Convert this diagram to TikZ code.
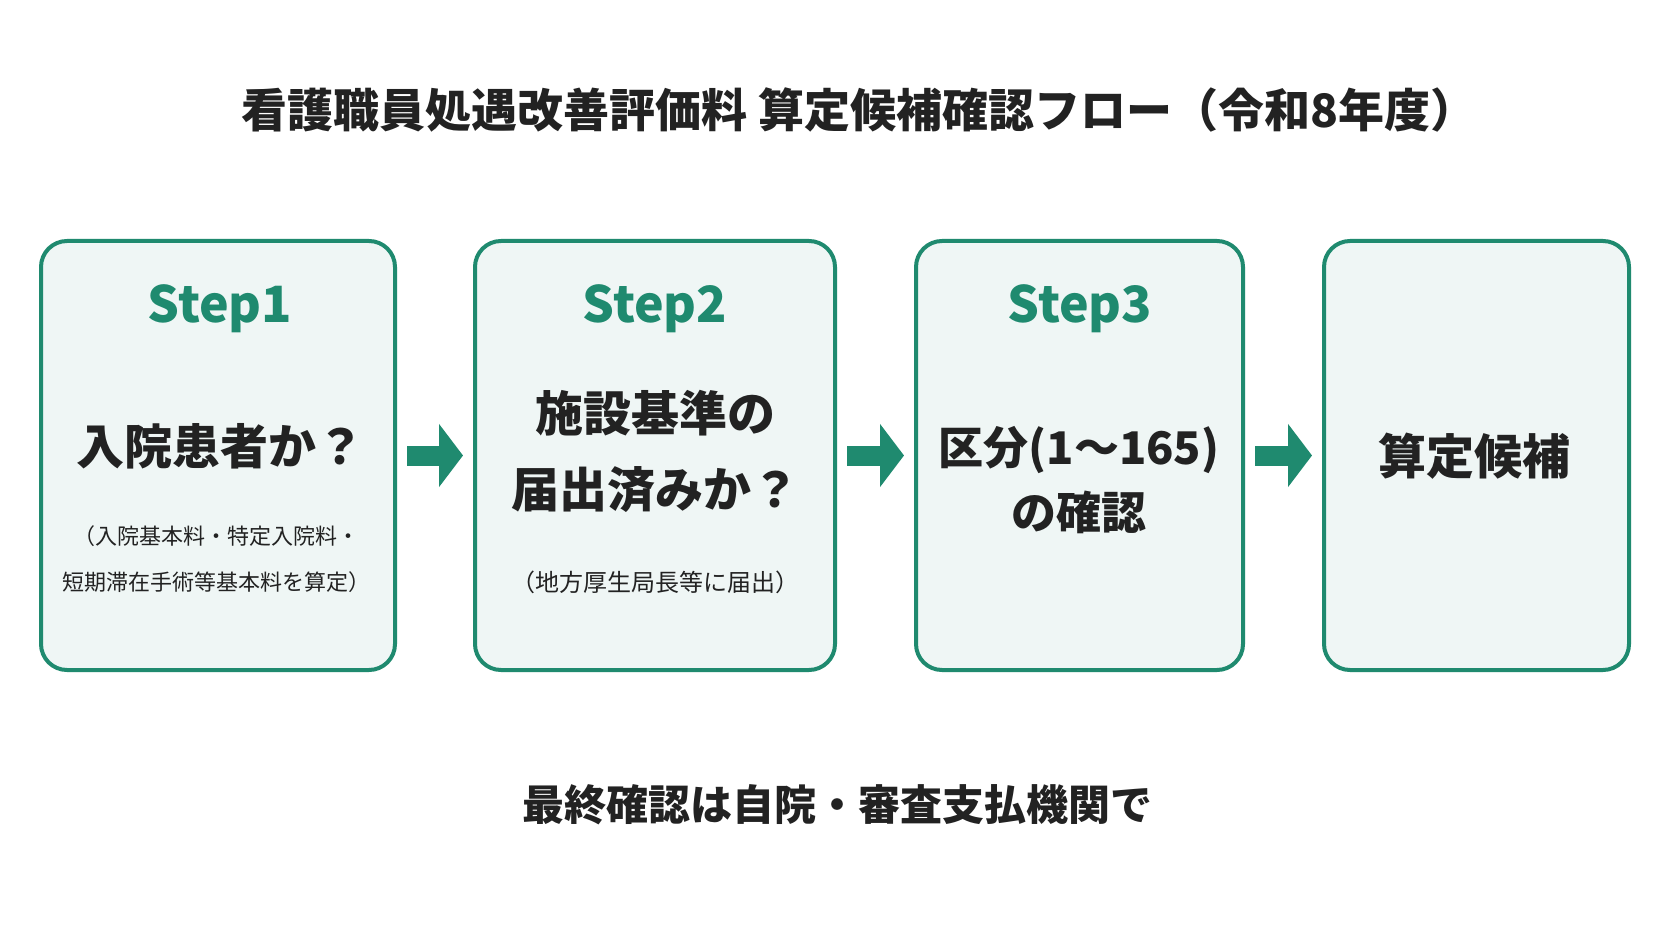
\documentclass[tikz,border=0pt]{standalone}
\usepackage{fontspec}
\setmainfont{Noto Sans CJK JP}
\usetikzlibrary{arrows.meta}
\definecolor{stepgreen}{HTML}{1F8A6F}
\definecolor{stepfill}{HTML}{EFF6F5}
\definecolor{inkdark}{HTML}{222222}
\newcommand{\pxsize}[2]{\fontsize{#1}{#2}\selectfont}

\begin{document}
\begin{tikzpicture}[x=1pt,y=-1pt,
  stepbox/.style={draw=stepgreen, line width=4pt, fill=stepfill, rounded corners=26pt, minimum height=429pt, inner sep=0pt},
  steplabel/.style={text=stepgreen, font=\bfseries\pxsize{50}{60}},
  question/.style={text=inkdark, font=\bfseries\pxsize{48}{#1}, align=center},
  question/.default=60,
  note/.style={text=inkdark, font=\pxsize{22}{46}, align=center},
  flow/.style={stepgreen, line width=20pt, shorten <=10pt, shorten >=10pt, -{Triangle[length=24pt,width=62pt]}}]
\useasboundingbox (0,0) rectangle (1672,941);
\fill[white] (0,0) rectangle (1672,941);
\node[text=inkdark, font=\bfseries\pxsize{46}{56}] (title) at (859,110) {看護職員処遇改善評価料 算定候補確認フロー（令和8年度）};
% four step boxes
\node[stepbox, minimum width=354pt] (s1) at (218,455.5) {};
\node[stepbox, minimum width=360pt] (s2) at (655,455.5) {};
\node[stepbox, minimum width=327pt] (s3) at (1079.5,455.5) {};
\node[stepbox, minimum width=305pt] (s4) at (1476.5,455.5) {};
% step 1
\node[steplabel] (s1step) at (220,309) {Step1};
\node[question] (s1q) at (220,446) {入院患者か？};
\node[note] (s1note) at (216,559) {（入院基本料・特定入院料・\\短期滞在手術等基本料を算定）};
% step 2
\node[steplabel] (s2step) at (655,309) {Step2};
\node[question=76] (s2q) at (655,451) {施設基準の\\届出済みか？};
\node[note, font=\pxsize{24}{30}] (s2note) at (655,582) {（地方厚生局長等に届出）};
% step 3
\node[steplabel] (s3step) at (1080,309) {Step3};
\node[question=65, font=\bfseries\pxsize{45}{65}] (s3q) at (1079,480) {区分(1～165)\\の確認};
% step 4
\node[question] (s4q) at (1474,456) {算定候補};
% arrows
\draw[flow] (s1) -- (s2);
\draw[flow] (s2) -- (s3);
\draw[flow] (s3) -- (s4);
\node[text=inkdark, font=\bfseries\pxsize{42}{50}] (closing) at (837,805) {最終確認は自院・審査支払機関で};
\end{tikzpicture}
\end{document}
